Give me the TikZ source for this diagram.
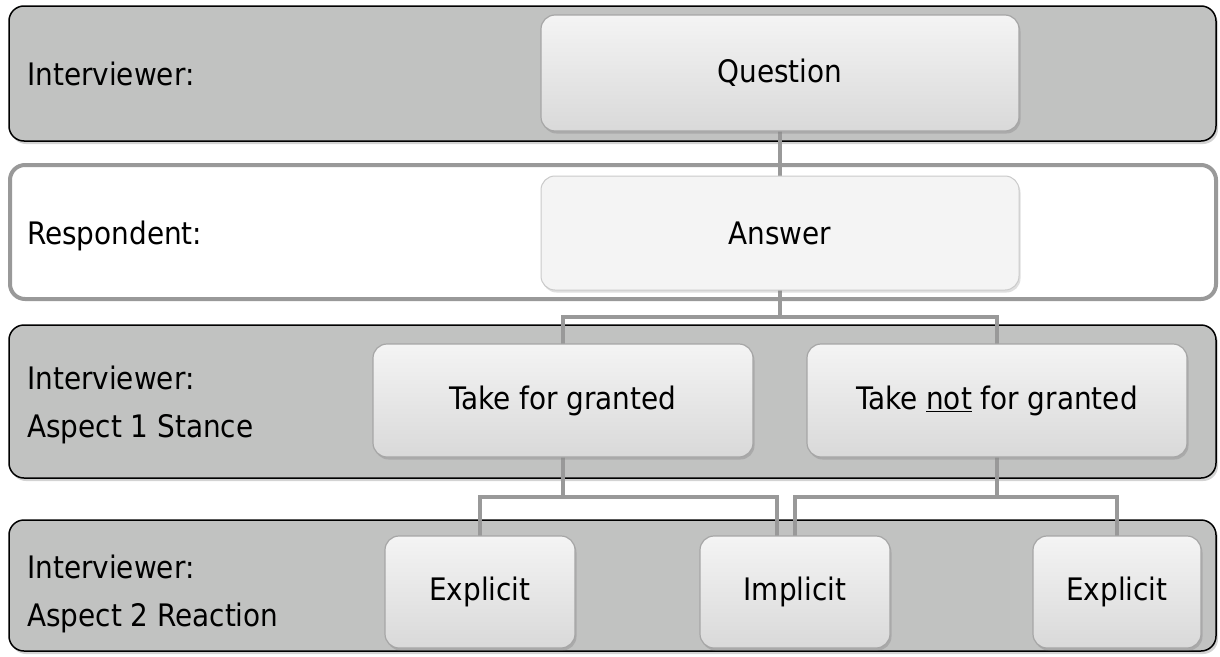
\documentclass[tikz,border=0pt]{standalone}
\usepackage{fontspec}
\setmainfont{DejaVu Sans Condensed}
\usetikzlibrary{shadows,calc}
\definecolor{bandgray}{HTML}{C1C2C1}
\definecolor{linegray}{HTML}{999999}
\definecolor{boxtop}{HTML}{F4F4F4}
\definecolor{boxbot}{HTML}{D9D9D9}
\definecolor{boxborder}{HTML}{A6A6A6}
\tikzset{
  band/.style={draw=black, line width=1.5pt, fill=bandgray, rounded corners=15pt,
    drop shadow={shadow xshift=2pt, shadow yshift=-3pt, opacity=0.35, fill=gray}},
  wband/.style={draw=linegray, line width=4pt, fill=white, rounded corners=15pt},
  lbl/.style={anchor=north west, inner sep=0pt, align=left, font=\fontsize{31}{48}\selectfont},
  box/.style={draw=boxborder, line width=1.2pt, rounded corners=14pt,
    top color=boxtop, bottom color=boxbot, font=\fontsize{31}{37}\selectfont,
    inner sep=0pt,
    drop shadow={shadow xshift=1.5pt, shadow yshift=-2.5pt, opacity=0.35, fill=gray}},
  flatbox/.style={draw=boxborder!60, line width=1pt, rounded corners=14pt,
    fill=boxtop, font=\fontsize{31}{37}\selectfont, inner sep=0pt,
    drop shadow={shadow xshift=1.5pt, shadow yshift=-2.5pt, opacity=0.25, fill=gray}},
  conn/.style={draw=linegray, line width=4pt}
}
\begin{document}
\begin{tikzpicture}[x=1pt,y=-1pt]
\useasboundingbox (0,0) rectangle (1220,656);
% bands
\path[band] (9,6) rectangle (1216,141);
\path[wband] (10,165) rectangle (1216,299);
\path[band] (9,325) rectangle (1216,478);
\path[band] (9,520) rectangle (1216,651);
% band labels
\node[lbl] (l1) at (27,62) {Interviewer:};
\node[lbl] (l2) at (27,221) {Respondent:};
\node[lbl] (l3) at (27,366) {Interviewer:\\Aspect 1 Stance};
\node[lbl] (l4) at (27,555) {Interviewer:\\Aspect 2 Reaction};
% connectors (drawn first, behind boxes)
\coordinate (q) at (780,73);
\coordinate (a) at (780,233);
\coordinate (t1) at (563,400.5);
\coordinate (t2) at (997,400.5);
\coordinate (e1) at (480,592);
\coordinate (im) at (795,592);
\coordinate (e2) at (1117,592);
\coordinate (imL) at (777,592);
\draw[conn] (q) -- (a);
\draw[conn] (a) -- (780,317) -| (t1);
\draw[conn] (780,317) -| (t2);
\draw[conn] (t1) -- (563,497) -| (e1);
\draw[conn] (563,497) -| (imL);
\draw[conn] (t2) -- (997,497) -| (im);
\draw[conn] (997,497) -| (e2);
% boxes
\node[box, minimum width=478pt, minimum height=116pt] (Q) at (q) {Question};
\node[flatbox, minimum width=478pt, minimum height=114pt] (A) at (a) {Answer};
\node[box, minimum width=380pt, minimum height=113pt] (TG) at (t1) {Take for granted};
\node[box, minimum width=380pt, minimum height=113pt] (TNG) at (t2) {Take \underline{not} for granted};
\node[box, minimum width=190pt, minimum height=112pt] (E1) at (e1) {Explicit};
\node[box, minimum width=190pt, minimum height=112pt] (IM) at (im) {Implicit};
\node[box, minimum width=168pt, minimum height=112pt] (E2) at (e2) {Explicit};
\end{tikzpicture}
\end{document}
